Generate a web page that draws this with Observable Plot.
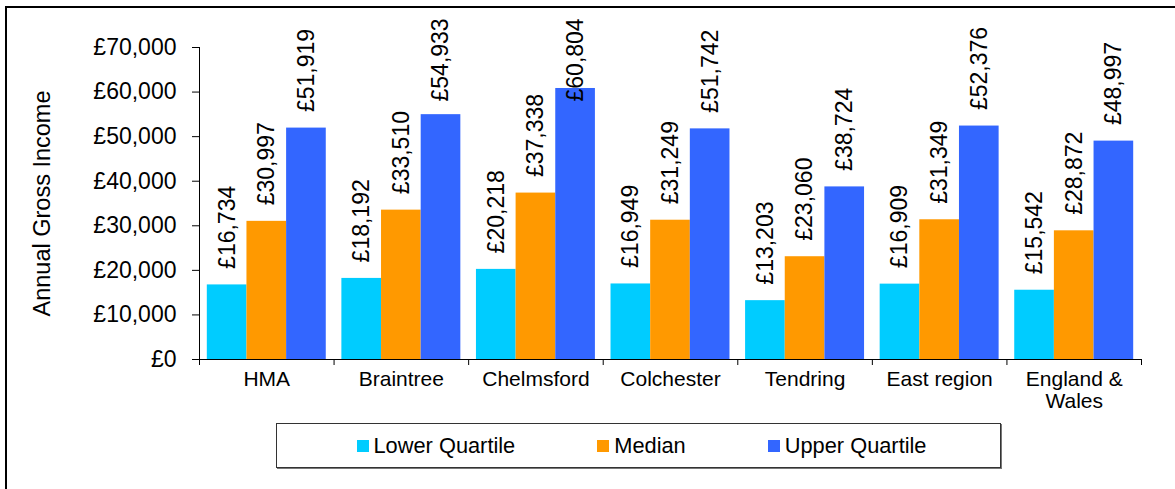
<!DOCTYPE html>
<html>
<head>
<meta charset="utf-8">
<script src="https://cdn.jsdelivr.net/npm/d3@7"></script>
<script src="https://cdn.jsdelivr.net/npm/@observablehq/plot@0.6"></script>
<style>
  html, body { margin: 0; padding: 0; background: #fff; }
  body { width: 1175px; height: 489px; overflow: hidden; position: relative;
         font-family: "Liberation Sans", Arial, sans-serif; }
  #frame { position: absolute; left: 5px; top: 6px; right: -10px; bottom: -10px;
           border-top: 2px solid #000; border-left: 2px solid #000; pointer-events: none; }
  #chart { position: absolute; left: 0; top: 0; }
  #legend { position: absolute; left: 276px; top: 423px; width: 725px; height: 45px;
            border: 1px solid #333; box-shadow: 1px 1px 0 #777; box-sizing: border-box;
            display: flex; align-items: center; justify-content: center; gap: 82px;
            font-size: 21.8px; color: #000; padding-left: 6px; }
  .item { display: flex; align-items: center; gap: 5px; }
  .sw { width: 12px; height: 12px; display: inline-block; }
</style>
</head>
<body>
<div id="chart"></div>
<div id="frame"></div>
<div id="legend"></div>
<script>
// ---- data ----
const categories = ["HMA", "Braintree", "Chelmsford", "Colchester", "Tendring", "East region", "England & Wales"];
const seriesNames = ["Lower Quartile", "Median", "Upper Quartile"];
const lowerQuartile = [16734, 18192, 20218, 16949, 13203, 16909, 15542];
const median = [30997, 33510, 37338, 31249, 23060, 31349, 28872];
const upperQuartile = [51919, 54933, 60804, 51742, 38724, 52376, 48997];
const seriesColors = ["#00CCFF", "#FF9900", "#3366FF"];
const yTicks = [0, 10000, 20000, 30000, 40000, 50000, 60000, 70000];
const yMax = 70000;
const yTitle = "Annual Gross Income";
const labelCap = 54300; // labels kept inside the plot area (as in the original)

// ---- build table ----
const seriesValues = [lowerQuartile, median, upperQuartile];
const groupPad = 0.058;
const barW = (1 - 2 * groupPad) / 3;
const rows = [];
categories.forEach((c, i) => {
  seriesNames.forEach((s, j) => {
    rows.push({category: c, ci: i, series: s, sj: j, value: seriesValues[j][i]});
  });
});
const x1 = d => d.ci + groupPad + d.sj * barW;
const x2 = d => d.ci + groupPad + (d.sj + 1) * barW;
const xm = d => d.ci + groupPad + (d.sj + 0.5) * barW;

const fmt = v => "£" + d3.format(",")(v);
const font = "\"Liberation Sans\", Arial, sans-serif";

const plot = Plot.plot({
  width: 1175,
  height: 420,
  marginLeft: 199,
  marginRight: 34,
  marginTop: 47,
  marginBottom: 61,
  style: {fontFamily: font, fontSize: "21px", color: "#000", background: "transparent", overflow: "visible"},
  x: {type: "linear", domain: [0, categories.length], axis: null},
  y: {domain: [0, yMax], axis: null},
  color: {domain: seriesNames, range: seriesColors},
  marks: [
    Plot.rectY(rows, {x1, x2, y1: 0, y2: "value", fill: "series"}),
    Plot.axisY({ticks: yTicks, tickFormat: fmt, tickSize: 7, tickPadding: 16, fontSize: 23, label: null}),
    Plot.axisY({ticks: [], tickSize: 0, fontSize: 23.5,
                label: yTitle, labelAnchor: "center", labelArrow: "none", labelOffset: 166}),
    Plot.ruleX([0], {stroke: "#000"}),
    Plot.ruleY([0], {stroke: "#000"}),
    Plot.axisX({ticks: d3.range(0, categories.length + 1), tickFormat: () => "", tickSize: 6, label: null}),
    Plot.text(categories, {x: (d, i) => i + 0.5, y: 0, text: d => d, lineAnchor: "top", dy: 10,
                           lineWidth: 6, lineHeight: 1.08, fontSize: 21, fill: "#000"}),
    Plot.text(rows, {x: xm, y: d => Math.min(d.value, labelCap), text: d => fmt(d.value),
                     rotate: -90, textAnchor: "start", dy: -16, fontSize: 23, fill: "#000"})
  ]
});
document.getElementById("chart").appendChild(plot);

// ---- legend ----
const legend = document.getElementById("legend");
seriesNames.forEach((s, j) => {
  const item = document.createElement("div");
  item.className = "item";
  const sw = document.createElement("span");
  sw.className = "sw";
  sw.style.background = seriesColors[j];
  const t = document.createElement("span");
  t.textContent = s;
  item.appendChild(sw);
  item.appendChild(t);
  legend.appendChild(item);
});
</script>
</body>
</html>
